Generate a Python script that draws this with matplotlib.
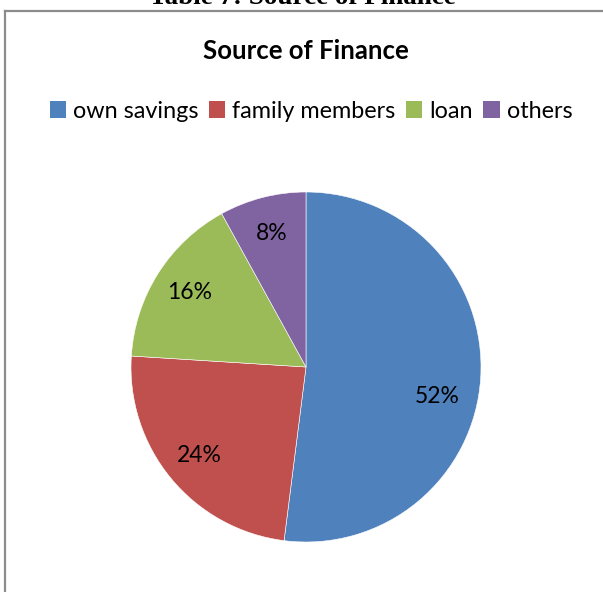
import matplotlib
matplotlib.use("Agg")
import matplotlib.pyplot as plt
from matplotlib.patches import Patch
from matplotlib.lines import Line2D

# datos del grafico
fuentes = ["own savings", "family members", "loan", "others"]
porcentajes = [52, 24, 16, 8]
colores = ["#4F81BD", "#C0504D", "#9BBB59", "#8064A2"]

W, H = 603, 592
fig = plt.figure(figsize=(W / 100, H / 100), dpi=100)

# marco gris (solo borde superior e izquierdo visibles)
gris = "#8c8c8c"
fig.add_artist(Line2D([5 / W, 1], [1 - 11 / H, 1 - 11 / H], color=gris, lw=1.6,
                      transform=fig.transFigure))
fig.add_artist(Line2D([5 / W, 5 / W], [1 - 11 / H, 0], color=gris, lw=1.6,
                      transform=fig.transFigure))

# titulo de la tabla (cortado arriba)
fig.text(302 / W, 1 - 4 / H, "Table 7: Source of Finance", ha="center", va="baseline",
         family="Liberation Serif", weight="bold", fontsize=19.5)

# titulo del grafico
fig.text(306 / W, 1 - 51 / H, "Source of Finance", ha="center", va="center",
         family="Lato", weight="bold", fontsize=18.5)

# leyenda
handles = [Patch(facecolor=c, edgecolor="none") for c in colores]
fig.legend(handles, fuentes, loc="center", bbox_to_anchor=(311 / W, 1 - 111 / H),
           ncol=4, frameon=False, handlelength=0.7, handleheight=0.7,
           handletextpad=0.3, columnspacing=0.45,
           prop={"family": "Lato", "size": 16.8})

# torta
r = 175
cx, cy = 306, 367
ax = fig.add_axes([(cx - r) / W, (H - cy - r) / H, 2 * r / W, 2 * r / H])
wedges, texts, autotexts = ax.pie(porcentajes, colors=colores, startangle=90,
                                  counterclock=False, radius=1,
                                  autopct=lambda p: f"{p:.0f}%", pctdistance=0.79,
                                  wedgeprops={"edgecolor": "white", "linewidth": 0.4},
                                  textprops={"family": "Lato", "fontsize": 16.5,
                                             "color": "black"})
# etiqueta del 52% mas abajo
autotexts[0].set_position((0.75, -0.17))
ax.set_xlim(-1, 1)
ax.set_ylim(-1, 1)
ax.set_aspect("equal")
ax.axis("off")

fig.savefig("out.png", dpi=100)
